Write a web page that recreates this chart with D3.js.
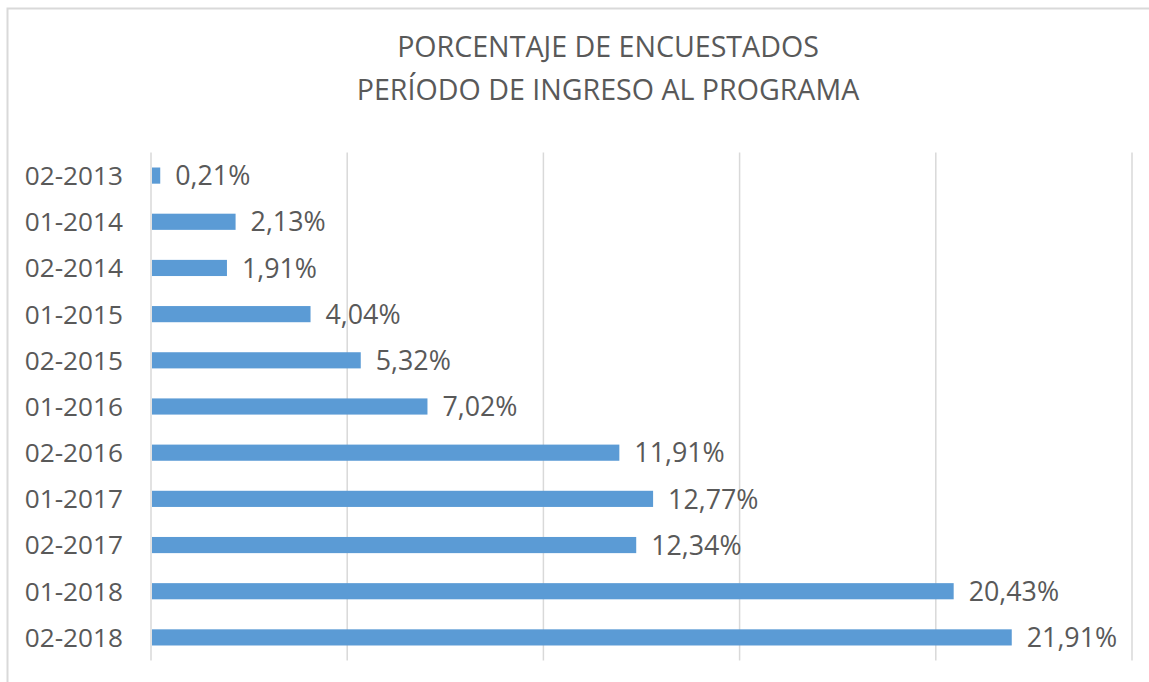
<!DOCTYPE html>
<html>
<head>
<meta charset="utf-8">
<script src="https://cdn.jsdelivr.net/npm/d3@7"></script>
<style>
  body { margin: 0; background: #fff; }
  svg { display: block; }
  text { font-family: "Open Sans", "Liberation Sans", sans-serif; fill: #595959; }
</style>
</head>
<body>
<div class="chartContainer"></div>
<script>
const WIDTH = 1149;
const HEIGHT = 682;
const PLOT_LEFT = 151;
const PLOT_RIGHT = 1132;
const PLOT_TOP = 152.5;
const PLOT_BOTTOM = 660.5;

var titleLines = ['PORCENTAJE DE ENCUESTADOS', 'PERÍODO DE INGRESO AL PROGRAMA'];
var periods = ['02-2013', '01-2014', '02-2014', '01-2015', '02-2015', '01-2016',
  '02-2016', '01-2017', '02-2017', '01-2018', '02-2018'];
var percents = [0.21, 2.13, 1.91, 4.04, 5.32, 7.02, 11.91, 12.77, 12.34, 20.43, 21.91];
var gridTicks = [0, 5, 10, 15, 20, 25];

function formatPercent(v) {
  return v.toFixed(2).replace('.', ',') + '%';
}

var drawChart = function () {
  var svg = d3.select('.chartContainer').append('svg')
    .attr('width', WIDTH)
    .attr('height', HEIGHT);

  // chart area border (cut off at right and bottom)
  svg.append('rect')
    .attr('x', 7.5)
    .attr('y', 8.5)
    .attr('width', 1160)
    .attr('height', 700)
    .attr('fill', '#fff')
    .attr('stroke', '#d9d9d9')
    .attr('stroke-width', 2);

  var x = d3.scaleLinear().domain([0, 25]).range([PLOT_LEFT, PLOT_RIGHT]);
  var y = d3.scaleBand().domain(periods).range([PLOT_TOP, PLOT_BOTTOM]).paddingInner(0.65).paddingOuter(0.325);

  svg.append('g')
    .selectAll('line')
    .data(gridTicks)
    .join('line')
    .attr('x1', d => x(d))
    .attr('x2', d => x(d))
    .attr('y1', PLOT_TOP)
    .attr('y2', PLOT_BOTTOM)
    .attr('stroke', '#d9d9d9')
    .attr('stroke-width', 1.5);

  svg.append('g')
    .selectAll('rect')
    .data(percents)
    .join('rect')
    .attr('x', x(0) + 1)
    .attr('y', (d, i) => y(periods[i]))
    .attr('width', d => x(d) - x(0))
    .attr('height', y.bandwidth())
    .attr('fill', '#5b9bd5');

  svg.append('g')
    .selectAll('text')
    .data(percents)
    .join('text')
    .attr('x', d => x(d) + 16)
    .attr('y', (d, i) => y(periods[i]) + y.bandwidth() / 2)
    .attr('dy', '0.36em')
    .attr('font-size', 26.8)
    .text(d => formatPercent(d));

  var yAxis = svg.append('g')
    .attr('transform', 'translate(' + (PLOT_LEFT - 28) + ',0)')
    .call(d3.axisLeft(y).tickSize(0).tickPadding(0));
  yAxis.select('.domain').remove();
  yAxis.attr('font-family', null);
  yAxis.selectAll('text')
    .attr('font-size', 26.2)
    .attr('fill', '#595959')
    .attr('dy', '0.36em');

  svg.append('g')
    .selectAll('text')
    .data(titleLines)
    .join('text')
    .attr('x', 608)
    .attr('y', (d, i) => 57 + i * 43)
    .attr('text-anchor', 'middle')
    .attr('font-size', 28.6)
    .text(d => d);
};

window.onload = drawChart;
</script>
</body>
</html>
